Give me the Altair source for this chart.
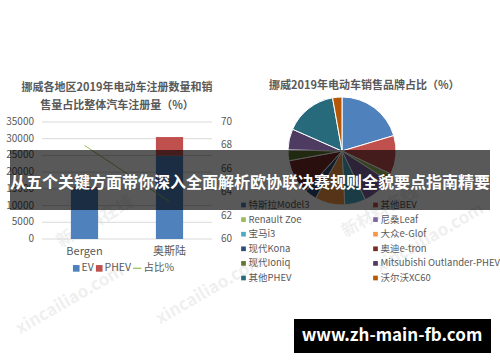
import altair as alt
import pandas as pd

# ---------------- data ----------------
regions = ["Bergen", "奥斯陆"]
ev_values = [15000, 24900]
phev_values = [450, 5600]
share_pct = [68.0, 63.2]
series_names = ["EV", "PHEV"]
series_colors = ["#4F81BD", "#C0504D"]
line_name = "占比%"
line_color = "#9BBB59"
left_ticks = [0, 5000, 10000, 15000, 20000, 25000, 30000, 35000]
right_ticks = [60, 62, 64, 66, 68, 70]

brands = ["特斯拉Model3", "其他BEV", "Renault Zoe", "尼桑Leaf", "宝马i3", "大众e-Glof",
          "现代Kona", "奥迪e-tron", "现代Ioniq", "Mitsubishi Outlander-PHEV", "其他PHEV", "沃尔沃XC60"]
brand_shares = [20.4, 11.6, 2.1, 8.8, 6.3, 8.9, 3.6, 10.4, 3.2, 6.3, 15.6, 2.8]
brand_colors = ["#4F81BD", "#C0504D", "#9BBB59", "#8064A2", "#4BACC6", "#F79646",
                "#2C4D75", "#772C2A", "#5F7530", "#4D3B62", "#276A7C", "#B65708"]

left_title = ["挪威各地区2019年电动车注册数量和销", "售量占比整体汽车注册量（%）"]
right_title = ["挪威2019年电动车销售品牌占比（%）"]
banner_text = ["从五个关键方面带你深入全面解析欧协联决赛规则全貌要点指南精要"]
url_text = ["www.zh-main-fb.com"]
watermarks = ["xincailiao.com", "xincailiao.com", "新材料在线", "xincailiao.com", "新材料在线"]

FONT = "Noto Sans CJK SC"
GREY = "#595959"

# ---------------- scales ----------------
x_band = alt.Scale(domain=regions, range=[42, 212], paddingInner=0.68, paddingOuter=0.34)
x_point = alt.Scale(type="point", domain=regions, range=[42, 212], padding=0.5)
yl_scale = alt.Scale(domain=[0, 35000], range=[239, 122], nice=False, zero=False)
yr_scale = alt.Scale(domain=[60, 70], range=[239, 122], nice=False, zero=False)

# ---------------- tables ----------------
bar_rows = []
for r, e, p in zip(regions, ev_values, phev_values):
    bar_rows.append({"region": r, "type": series_names[0], "value": e, "k": 0})
    bar_rows.append({"region": r, "type": series_names[1], "value": p, "k": 1})
bar_df = pd.DataFrame(bar_rows)
line_df = pd.DataFrame({"region": regions, "share": share_pct, "series": [line_name] * len(regions)})
lt_df = pd.DataFrame({"v": left_ticks, "lab": [str(v) for v in left_ticks]})
rt_df = pd.DataFrame({"v": right_ticks, "lab": [str(v) for v in right_ticks]})
xl_df = pd.DataFrame({"region": regions})
pie_df = pd.DataFrame({"brand": brands, "share": brand_shares, "idx": list(range(len(brands)))})
leg_df = pd.DataFrame({"brand": brands,
                       "col": [i % 2 for i in range(len(brands))],
                       "row": [i // 2 for i in range(len(brands))]})

# ---------------- layers ----------------
wm_pos = [(70, 300), (210, 290), (95, 222), (430, 238), (380, 212)]
wm_layers = []
for (wx, wy), wt in zip(wm_pos, watermarks):
    wm_layers.append(
        alt.Chart(pd.DataFrame({"t": [wt]})).mark_text(
            font=FONT, fontSize=17, fontWeight="bold", angle=330, color="#000000", opacity=0.06
        ).encode(x=alt.value(wx), y=alt.value(wy), text="t:N")
    )

grid = alt.Chart(lt_df).mark_rule(color="#D9D9D9", strokeWidth=1).encode(
    y=alt.Y("v:Q", scale=yl_scale, axis=None), x=alt.value(42), x2=alt.value(212))

bars = alt.Chart(bar_df).mark_bar().encode(
    x=alt.X("region:N", scale=x_band, axis=None),
    y=alt.Y("value:Q", stack="zero", scale=yl_scale, axis=None),
    color=alt.Color("type:N", scale=alt.Scale(domain=series_names, range=series_colors),
                    legend=alt.Legend(title=None, orient="none", legendX=71, legendY=263,
                                      direction="horizontal", symbolType="square", symbolSize=44,
                                      symbolStrokeWidth=0, labelFont=FONT, labelFontSize=10.5,
                                      labelColor=GREY, columnPadding=0, labelOffset=0)),
    order=alt.Order("k:Q"))

line = alt.Chart(line_df).mark_line(strokeWidth=1).encode(
    x=alt.X("region:N", scale=x_point, axis=None),
    y=alt.Y("share:Q", scale=yr_scale, axis=None),
    stroke=alt.Stroke("series:N", scale=alt.Scale(domain=[line_name], range=[line_color]),
                      legend=alt.Legend(title=None, orient="none", legendX=132, legendY=263,
                                        direction="horizontal", symbolType="stroke", symbolSize=70,
                                        symbolStrokeWidth=1.2, labelFont=FONT, labelFontSize=10.5,
                                        labelColor=GREY, labelOffset=1)))

lt_text = alt.Chart(lt_df).mark_text(align="right", baseline="middle", font=FONT, fontSize=10,
                                     color=GREY).encode(
    y=alt.Y("v:Q", scale=yl_scale, axis=None), x=alt.value(34), text="lab:N")
rt_text = alt.Chart(rt_df).mark_text(align="left", baseline="middle", font=FONT, fontSize=10,
                                     color=GREY).encode(
    y=alt.Y("v:Q", scale=yr_scale, axis=None), x=alt.value(221), text="lab:N")
xl_text = alt.Chart(xl_df).mark_text(baseline="middle", font=FONT, fontSize=11, color=GREY).encode(
    x=alt.X("region:N", scale=x_point, axis=None), y=alt.value(252), text="region:N")

lt1 = alt.Chart(pd.DataFrame({"t": [left_title[0]]})).mark_text(
    font=FONT, fontSize=11, fontWeight="bold", color=GREY, baseline="middle").encode(
    x=alt.value(117), y=alt.value(88), text="t:N")
lt2 = alt.Chart(pd.DataFrame({"t": [left_title[1]]})).mark_text(
    font=FONT, fontSize=11, fontWeight="bold", color=GREY, baseline="middle").encode(
    x=alt.value(117), y=alt.value(106), text="t:N")
rt1 = alt.Chart(pd.DataFrame({"t": right_title})).mark_text(
    font=FONT, fontSize=11, fontWeight="bold", color=GREY, baseline="middle", align="left").encode(
    x=alt.value(269), y=alt.value(86), text="t:N")

brand_scale = alt.Scale(domain=brands, range=brand_colors)
pie = alt.Chart(pie_df).mark_arc(outerRadius=54, stroke="white", strokeWidth=1).encode(
    theta=alt.Theta("share:Q", stack=True),
    color=alt.Color("brand:N", scale=brand_scale, legend=None),
    order=alt.Order("idx:Q"),
    x=alt.value(342), y=alt.value(151))

leg_x = alt.Scale(domain=[0, 1], range=[243.5, 375.5], nice=False, zero=False)
leg_y = alt.Scale(domain=[0, 5], range=[205, 278], nice=False, zero=False)
leg_sq = alt.Chart(leg_df).mark_square(size=22, opacity=1).encode(
    x=alt.X("col:Q", scale=leg_x, axis=None),
    y=alt.Y("row:Q", scale=leg_y, axis=None),
    color=alt.Color("brand:N", scale=brand_scale, legend=None))
leg_tx = alt.Chart(leg_df).mark_text(align="left", baseline="middle", dx=5, font=FONT, fontSize=9.5,
                                     color=GREY).encode(
    x=alt.X("col:Q", scale=leg_x, axis=None),
    y=alt.Y("row:Q", scale=leg_y, axis=None),
    text="brand:N")

banner_df = pd.DataFrame({"t": banner_text})
banner_rect = alt.Chart(banner_df).mark_rect(color="#000000", opacity=0.65).encode(
    x=alt.value(10), x2=alt.value(490), y=alt.value(150), y2=alt.value(210))
banner_tx = alt.Chart(banner_df).mark_text(font=FONT, fontSize=16, fontWeight="bold", color="white",
                                           baseline="middle").encode(
    x=alt.value(250), y=alt.value(183), text="t:N")

url_df = pd.DataFrame({"t": url_text})
url_rect = alt.Chart(url_df).mark_rect(color="#000000").encode(
    x=alt.value(294), x2=alt.value(491), y=alt.value(319), y2=alt.value(353))
url_tx = alt.Chart(url_df).mark_text(font=FONT, fontSize=17, fontWeight="bold", color="white",
                                     baseline="middle").encode(
    x=alt.value(392), y=alt.value(336), text="t:N")

layers = wm_layers + [grid, bars, line, lt_text, rt_text, xl_text, lt1, lt2, rt1,
                      pie, leg_sq, leg_tx, banner_rect, banner_tx, url_rect, url_tx]

chart = alt.layer(*layers).properties(
    width=500, height=362, autosize=alt.AutoSizeParams(type="none"), padding=0
).resolve_scale(
    x="independent", y="independent", color="independent", stroke="independent", theta="independent"
).resolve_legend(
    color="independent", stroke="independent"
).configure_view(stroke=None)

chart.save("out.html", embed_options={"renderer": "svg", "actions": False})
